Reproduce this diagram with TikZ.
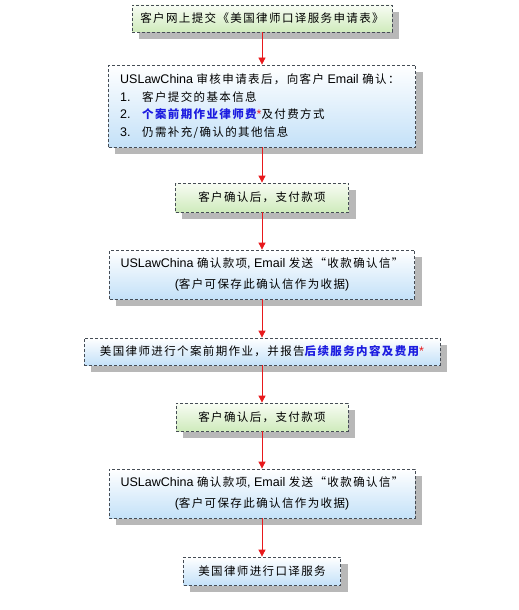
\documentclass[tikz,border=0pt]{standalone}
\usepackage{fontspec}
\setmainfont{Liberation Sans}
\newfontfamily\cjkfont[LetterSpace=12]{Noto Sans CJK SC}
\usetikzlibrary{backgrounds,arrows.meta}
\newcommand{\zhtext}[1]{{\cjkfont #1}}
\definecolor{gtop}{HTML}{F8FCF4}
\definecolor{gbot}{HTML}{CFEBBC}
\definecolor{bbot}{HTML}{C4E1F8}
\definecolor{bluetxt}{HTML}{1C1CE0}
\definecolor{shadowgray}{HTML}{B8B8B8}
\definecolor{bordercol}{HTML}{454C55}
\definecolor{arrowred}{HTML}{E8191C}
\tikzset{
  boxbase/.style={rectangle, draw=bordercol, dash pattern=on 3pt off 2pt, line width=0.8pt,
    inner sep=0pt, font=\fontsize{12.5}{15}\selectfont},
  greenbox/.style={boxbase, top color=gtop, bottom color=gbot},
  bluebox/.style={boxbase, top color=white, bottom color=bbot},
  shadowbox/.style={fill=shadowgray},
  flowarrow/.style={draw=arrowred, line width=0.8pt, -{Triangle[width=7pt,length=7pt]}}
}
\begin{document}
\begin{tikzpicture}[x=1pt,y=-1pt]
\node[greenbox, minimum width=260pt, minimum height=27pt] (b1) at (262,18.5)
  {\zhtext{\fontsize{11.5}{14}\selectfont 客户网上提交《美国律师口译服务申请表》}};
\node[bluebox, minimum width=307pt, minimum height=82pt] (b2) at (262,106) {};
\node[anchor=west, align=left, font=\fontsize{12.5}{17.5}\selectfont, inner sep=0pt] (b2t) at (120,106)
  {USLawChina \zhtext{\fontsize{11.5}{14}\selectfont 审核申请表后，向客户} Email \zhtext{\fontsize{11.5}{14}\selectfont 确认：}\\
   \makebox[22pt][l]{1.}\zhtext{\fontsize{11.5}{14}\selectfont 客户提交的基本信息}\\
   \makebox[22pt][l]{2.}\zhtext{\fontsize{11.5}{14}\selectfont\color{bluetxt}\bfseries 个案前期作业律师费}{\color{arrowred}*}\zhtext{\fontsize{11.5}{14}\selectfont 及付费方式}\\
   \makebox[22pt][l]{3.}\zhtext{\fontsize{11.5}{14}\selectfont 仍需补充/确认的其他信息}};
\node[greenbox, minimum width=173pt, minimum height=29pt] (b3) at (262,197.5)
  {\zhtext{\fontsize{11.5}{14}\selectfont 客户确认后，支付款项}};
\node[bluebox, minimum width=305pt, minimum height=49pt, align=center, font=\fontsize{12.5}{21}\selectfont] (b4) at (262,274.5)
  {USLawChina \zhtext{\fontsize{11.5}{14}\selectfont 确认款项}, Email \zhtext{\fontsize{11.5}{14}\selectfont 发送“收款确认信”}\\
   (\zhtext{\fontsize{11.5}{14}\selectfont 客户可保存此确认信作为收据})};
\node[bluebox, minimum width=356pt, minimum height=27pt] (b5) at (262,351.5)
  {\zhtext{\fontsize{11.5}{14}\selectfont 美国律师进行个案前期作业，并报告{\color{bluetxt}\bfseries 后续服务内容及费用}}{\color{arrowred}*}};
\node[greenbox, minimum width=172pt, minimum height=28pt] (b6) at (262,417)
  {\zhtext{\fontsize{11.5}{14}\selectfont 客户确认后，支付款项}};
\node[bluebox, minimum width=306pt, minimum height=49pt, align=center, font=\fontsize{12.5}{21}\selectfont] (b7) at (262,493.5)
  {USLawChina \zhtext{\fontsize{11.5}{14}\selectfont 确认款项}, Email \zhtext{\fontsize{11.5}{14}\selectfont 发送“收款确认信”}\\
   (\zhtext{\fontsize{11.5}{14}\selectfont 客户可保存此确认信作为收据})};
\node[bluebox, minimum width=157pt, minimum height=28pt] (b8) at (262,571)
  {\zhtext{\fontsize{11.5}{14}\selectfont 美国律师进行口译服务}};
\begin{scope}[on background layer]
  \fill[white] (0,0) rectangle (519,610);
  \foreach \b in {b1,b2,b3,b4,b5,b6,b7,b8}
    \fill[shadowbox] ([shift={(7,7)}]\b.north west) rectangle ([shift={(7,7)}]\b.south east);
\end{scope}
\draw[flowarrow] (b1.south) -- (b2.north);
\draw[flowarrow] (b2.south) -- (b3.north);
\draw[flowarrow] (b3.south) -- (b4.north);
\draw[flowarrow] (b4.south) -- (b5.north);
\draw[flowarrow] (b5.south) -- (b6.north);
\draw[flowarrow] (b6.south) -- (b7.north);
\draw[flowarrow] (b7.south) -- (b8.north);
\path[use as bounding box] (0,0) rectangle (519,610);
\end{tikzpicture}
\end{document}
